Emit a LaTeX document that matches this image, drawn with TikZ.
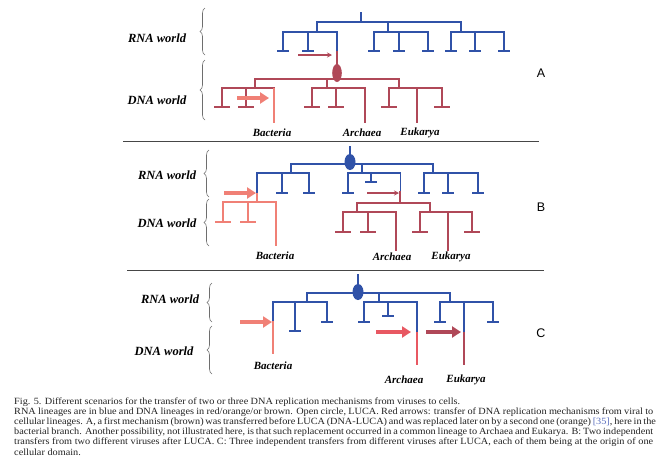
\documentclass[tikz,border=0pt]{standalone}
\usepackage{fontspec}
\setmainfont{Liberation Serif}
\newfontfamily\lsans{Liberation Sans}
\newfontfamily\capfont[FakeStretch=1.08]{Liberation Serif}
\usetikzlibrary{arrows.meta,decorations.pathreplacing}
\definecolor{rnab}{RGB}{48,82,168}
\definecolor{dnar}{RGB}{176,72,88}
\definecolor{bact}{RGB}{240,128,118}
\definecolor{arch}{RGB}{232,88,98}
\definecolor{bracec}{RGB}{110,110,110}
\definecolor{sepc}{RGB}{70,70,70}
\definecolor{capc}{RGB}{35,35,35}
\definecolor{refc}{RGB}{90,110,190}
\tikzset{
  bl/.style={draw=rnab,line width=1.3pt,line cap=rect},
  dr/.style={draw=dnar,line width=2.2pt,line cap=rect},
  ba/.style={draw=bact,line width=2.2pt,line cap=rect},
  ar/.style={draw=arch,line width=2.2pt,line cap=rect},
  thinarrow/.style={draw=dnar,line width=1.4pt,-{Stealth[length=5pt,width=5pt]}},
  fatarrow/.style={line width=4pt,-{Triangle[length=9pt,width=11pt]}},
  world/.style={font=\fontsize{12.5}{14}\selectfont\bfseries\itshape,inner sep=0pt},
  taxon/.style={font=\fontsize{11}{13}\selectfont\bfseries\itshape,inner sep=0pt},
  panel/.style={font=\lsans\fontsize{12.5}{14}\selectfont,inner sep=0pt},
  capline/.style={font=\capfont\fontsize{9.5}{10.2}\selectfont,text=capc,inner sep=0pt,anchor=base west},
  wbrace/.style={draw=bracec,line width=0.6pt,decorate,decoration={brace,amplitude=5pt}},
  sep/.style={draw=sepc,line width=1pt}
}
\newcommand\bleaf[3]{\draw[bl] (#1,#2) -- (#1,#3) (#1-5,#3) -- (#1+5,#3);}
\newcommand\rleaf[4][dr]{\draw[#1] (#2,#3) -- (#2,#4) (#2-7,#4) -- (#2+7,#4);}
\begin{document}
\begin{tikzpicture}[x=1pt,y=-1pt]
\useasboundingbox (0,0) rectangle (663,475);
\fill[white] (0,0) rectangle (663,475);

% ================= Panel A =================
\node[world] (rnaA) at (157,38) {RNA world};
\node[world] (dnaA) at (157,100) {DNA world};
\draw[wbrace] (205,55) -- (205,8);
\draw[wbrace] (205,120) -- (205,60);
\node[panel] (pA) at (541,73) {A};
% blue tree
\draw[bl] (361,13) -- (361,22) (317,22) -- (461,22);
\draw[bl] (317,22) -- (317,32) (388,22) -- (388,32) (461,22) -- (461,32);
\draw[bl] (283,32) -- (337,32) (374,32) -- (428,32) (451,32) -- (504,32);
\bleaf{283}{32}{51}\bleaf{308}{32}{51}
\bleaf{374}{32}{51}\bleaf{399}{32}{51}\bleaf{428}{32}{51}
\bleaf{451}{32}{51}\bleaf{475}{32}{51}\bleaf{504}{32}{51}
\draw[bl] (337,32) -- (337,52);
\draw[dr] (337,52) -- (337,79);
\draw[thinarrow] (298,55) -- (332,55);
\fill[dnar] (337,73) ellipse [x radius=4.8pt, y radius=9pt];
% red tree
\draw[dr] (255,79) -- (399,79);
\draw[dr] (255,79) -- (255,88) (327,79) -- (327,88) (399,79) -- (399,88);
\draw[dr] (222,88) -- (274,88) (312,88) -- (365,88) (389,88) -- (442,88);
\rleaf{222}{88}{107}\rleaf{246}{88}{107}
\rleaf{312}{88}{107}\rleaf{336}{88}{107}
\rleaf{389}{88}{107}\rleaf{442}{88}{107}
\draw[ba] (274,89) -- (274,122);
\draw[dr] (365,88) -- (365,122) (417,88) -- (417,122);
\draw[fatarrow,draw=bact,fill=bact] (237,98) -- (269,98);
\node[taxon] (bacA) at (272,133) {Bacteria};
\node[taxon] (arcA) at (362,133) {Archaea};
\node[taxon] (eukA) at (420,133) {Eukarya};

\draw[sep] (123,141) -- (539,141);

% ================= Panel B =================
\node[world] (rnaB) at (167,175) {RNA world};
\node[world] (dnaB) at (167,223) {DNA world};
\draw[wbrace] (209,197) -- (209,150);
\draw[wbrace] (209,246) -- (209,199);
\node[panel] (pB) at (541,207) {B};
\draw[bl] (350,147) -- (350,164) (291,164) -- (433,164);
\draw[bl] (291,164) -- (291,173) (362,164) -- (362,173) (433,164) -- (433,173);
\draw[bl] (257,173) -- (309,173) (348,173) -- (400,173) (424,173) -- (478,173);
\fill[rnab] (350,162) ellipse [x radius=5.5pt, y radius=8pt];
\bleaf{282}{173}{193}\bleaf{309}{173}{193}
\bleaf{348}{173}{193}\bleaf{371}{173}{182}
\bleaf{424}{173}{193}\bleaf{448}{173}{193}\bleaf{478}{173}{193}
% bacteria branch
\draw[bl] (257,173) -- (257,193);
\draw[ba] (257,194) -- (257,202);
\draw[ba] (223,202) -- (276,202);
\rleaf[ba]{223}{202}{222}\rleaf[ba]{248}{202}{222}
\draw[ba] (276,202) -- (276,245);
\draw[fatarrow,draw=bact,fill=bact] (224,193) -- (256,193);
% archaea/eukarya branch
\draw[draw=rnab,line width=1pt] (400,173) -- (400,191);
\draw[draw=dnar,line width=1.2pt] (400,191) -- (400,203);
\draw[thinarrow] (367,193) -- (399,193);
\draw[dr] (357,203) -- (430,203);
\draw[dr] (357,203) -- (357,212) (430,203) -- (430,212);
\draw[dr] (343,212) -- (396,212) (420,212) -- (472,212);
\rleaf{343}{212}{232}\rleaf{368}{212}{232}
\rleaf{420}{212}{232}\rleaf{472}{212}{232}
\draw[dr] (396,212) -- (396,250) (448,212) -- (448,250);
\node[taxon] (bacB) at (275,256) {Bacteria};
\node[taxon] (arcB) at (392,257) {Archaea};
\node[taxon] (eukB) at (451,257) {Eukarya};

\draw[sep] (127,270) -- (544,270);

% ================= Panel C =================
\node[world] (rnaC) at (170,299) {RNA world};
\node[world] (dnaC) at (164,351) {DNA world};
\draw[wbrace] (212,322) -- (212,283);
\draw[wbrace] (212,374) -- (212,326);
\node[panel] (pC) at (541,333) {C};
\draw[bl] (358,275) -- (358,293) (307,293) -- (450,293);
\draw[bl] (307,293) -- (307,302) (379,293) -- (379,302) (450,293) -- (450,302);
\draw[bl] (273,302) -- (327,302) (364,302) -- (417,302) (440,302) -- (493,302);
\fill[rnab] (358,292) ellipse [x radius=5.5pt, y radius=8pt];
\bleaf{295}{302}{331}\bleaf{327}{302}{322}
\bleaf{364}{302}{322}\bleaf{388}{302}{316}
\bleaf{440}{302}{322}\bleaf{493}{302}{322}
\draw[bl] (273,302) -- (273,321) (417,302) -- (417,331) (464,302) -- (464,331);
\draw[ba] (273,322) -- (273,353);
\draw[ar] (417,333) -- (417,364);
\draw[dr] (464,333) -- (464,364);
\draw[fatarrow,draw=bact,fill=bact] (240,322) -- (272,322);
\draw[fatarrow,draw=arch,fill=arch] (376,332) -- (411,332);
\draw[fatarrow,draw=dnar,fill=dnar] (426,332) -- (461,332);
\node[taxon] (bacC) at (273,366) {Bacteria};
\node[taxon] (arcC) at (404,380) {Archaea};
\node[taxon] (eukC) at (466,380) {Eukarya};

% ================= Caption =================
\node[capline] (c1) at (14,404) {\makebox[446pt][s]{Fig. 5. Different scenarios for the transfer of two or three DNA replication mechanisms from viruses to cells.}};
\node[capline] (c2) at (14,414.2) {\makebox[639pt][s]{RNA lineages are in blue and DNA lineages in red/orange/or brown. Open circle, LUCA. Red arrows: transfer of DNA replication mechanisms from viral to}};
\node[capline] (c3) at (14,424.4) {\makebox[639pt][s]{cellular lineages. A, a first mechanism (brown) was transferred before LUCA (DNA-LUCA) and was replaced later on by a second one (orange) {\color{refc}[35]}, here in the}};
\node[capline] (c4) at (14,434.6) {\makebox[639pt][s]{bacterial branch. Another possibility, not illustrated here, is that such replacement occurred in a common lineage to Archaea and Eukarya. B: Two independent}};
\node[capline] (c5) at (14,444.8) {\makebox[639pt][s]{transfers from two different viruses after LUCA. C: Three independent transfers from different viruses after LUCA, each of them being at the origin of one}};
\node[capline] (c6) at (14,455) {cellular domain.};
\end{tikzpicture}
\end{document}
